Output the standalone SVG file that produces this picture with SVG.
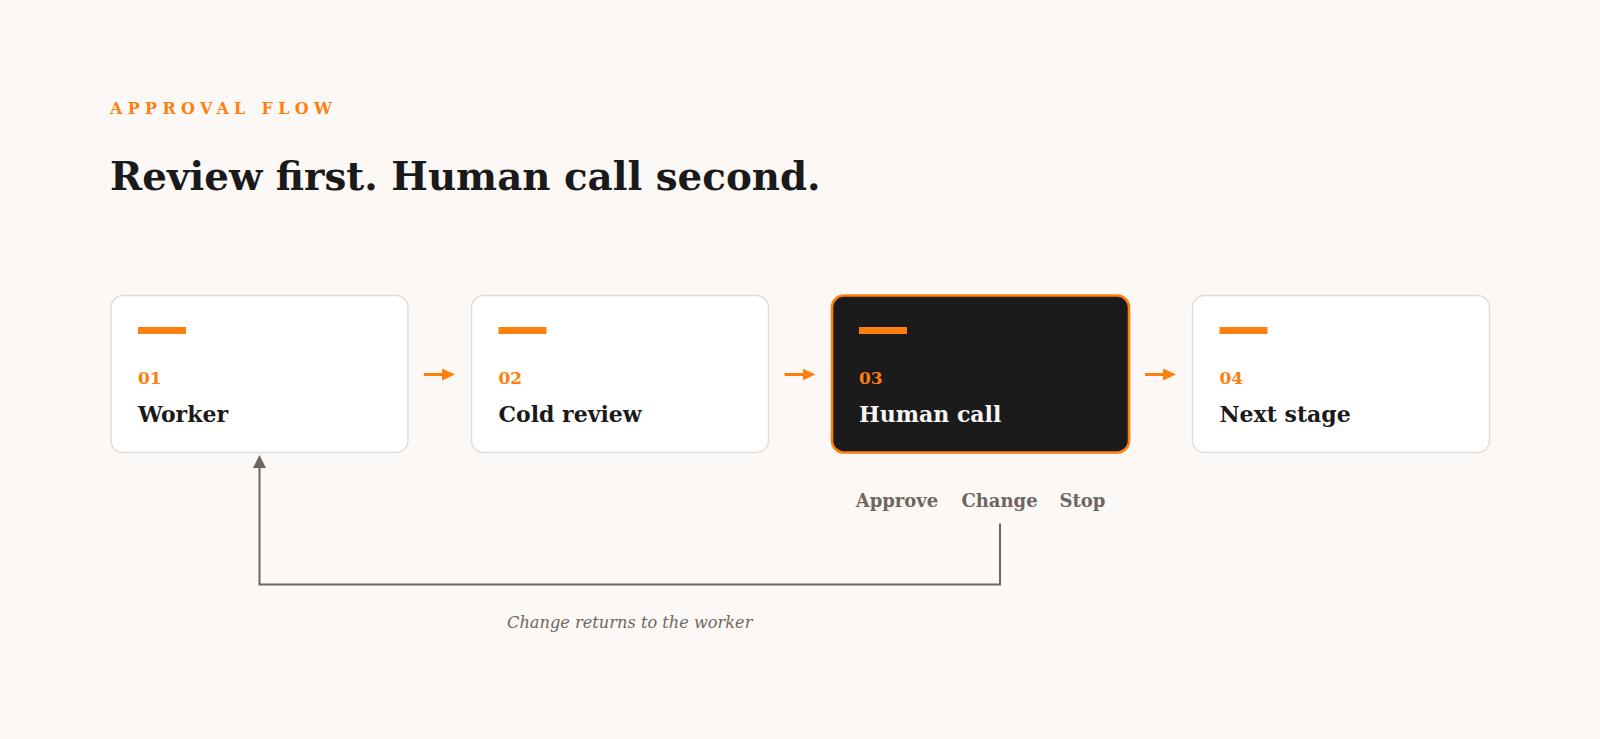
<svg xmlns="http://www.w3.org/2000/svg" width="1600" height="739" viewBox="0 0 1600 739">
  <style>
    .serif { font-family: Georgia, "DejaVu Serif", serif; }
    .eyebrow { font-size: 16px; font-weight: 700; fill: #ff7f0e; letter-spacing: 5.3px; }
    .title { font-size: 38.8px; font-weight: 700; fill: #1b1a1a; }
    .card { fill: #ffffff; stroke: #e3ddd9; stroke-width: 1.5; }
    .card-hi { fill: #1c1b1b; stroke: #ff7f0e; stroke-width: 2.6; }
    .bar { fill: #ff7f0e; }
    .num { font-size: 17px; font-weight: 700; fill: #ff7f0e; }
    .name { font-size: 22px; font-weight: 700; fill: #1b1a1a; }
    .name-hi { fill: #faf7f5; }
    .opt { font-size: 18px; font-weight: 700; fill: #6e6761; text-anchor: middle; }
    .caption { font-size: 16.2px; font-style: italic; fill: #6e6761; text-anchor: middle; }
    .flow { stroke: #ff7f0e; stroke-width: 3; fill: none; }
    .loop { stroke: #6e6761; stroke-width: 2; fill: none; }
  </style>
  <defs>
    <marker id="arrowOrange" markerUnits="userSpaceOnUse" markerWidth="14" markerHeight="12" viewBox="0 0 14 12" refX="2" refY="6" orient="auto">
      <path d="M0,0 L13,6 L0,12 Z" fill="#ff7f0e"/>
    </marker>
    <marker id="arrowGray" markerUnits="userSpaceOnUse" markerWidth="14" markerHeight="13" viewBox="0 0 14 13" refX="1" refY="6.5" orient="auto">
      <path d="M0,0 L13,6.5 L0,13 Z" fill="#6e6761"/>
    </marker>
  </defs>

  <rect x="0" y="0" width="1600" height="739" fill="#fcf8f6"/>

  <g id="header" class="serif">
    <text class="eyebrow" x="110" y="114">APPROVAL FLOW</text>
    <text class="title" x="110" y="189.5">Review first. Human call second.</text>
  </g>

  <g id="node-worker" class="serif">
    <rect class="card" x="111" y="295.5" width="297" height="157" rx="12"/>
    <rect class="bar" x="138" y="327" width="48" height="7"/>
    <text class="num" x="138" y="384">01</text>
    <text class="name" x="138" y="421.5">Worker</text>
  </g>

  <g id="node-cold-review" class="serif">
    <rect class="card" x="471.5" y="295.5" width="297" height="157" rx="12"/>
    <rect class="bar" x="498.5" y="327" width="48" height="7"/>
    <text class="num" x="498.5" y="384">02</text>
    <text class="name" x="498.5" y="421.5">Cold review</text>
  </g>

  <g id="node-human-call" class="serif">
    <rect class="card-hi" x="832" y="295.5" width="297" height="157" rx="12"/>
    <rect class="bar" x="859" y="327" width="48" height="7"/>
    <text class="num" x="859" y="384">03</text>
    <text class="name name-hi" x="859" y="421.5">Human call</text>
  </g>

  <g id="node-next-stage" class="serif">
    <rect class="card" x="1192.5" y="295.5" width="297" height="157" rx="12"/>
    <rect class="bar" x="1219.5" y="327" width="48" height="7"/>
    <text class="num" x="1219.5" y="384">04</text>
    <text class="name" x="1219.5" y="421.5">Next stage</text>
  </g>

  <g id="options" class="serif">
    <text class="opt" x="897" y="506.5">Approve</text>
    <text class="opt" x="999.5" y="506.5">Change</text>
    <text class="opt" x="1082.5" y="506.5">Stop</text>
  </g>

  <g id="connectors">
    <path class="flow" d="M424,374.5 H444" marker-end="url(#arrowOrange)"/>
    <path class="flow" d="M784.5,374.5 H804.5" marker-end="url(#arrowOrange)"/>
    <path class="flow" d="M1145,374.5 H1165" marker-end="url(#arrowOrange)"/>
    <path class="loop" d="M1000,523.5 V584.5 H259.5 V467" marker-end="url(#arrowGray)"/>
  </g>

  <g id="caption" class="serif">
    <text class="caption" x="629.75" y="628">Change returns to the worker</text>
  </g>
</svg>
